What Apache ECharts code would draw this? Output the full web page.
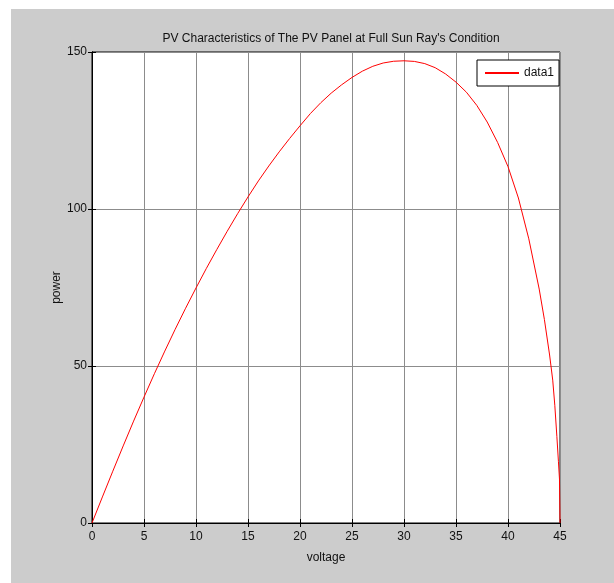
<!DOCTYPE html>
<html style="height: 100%">
<head>
<meta charset="utf-8">
<script type="text/javascript" src="https://cdn.jsdelivr.net/npm/echarts@6/dist/echarts.min.js"></script>
</head>
<body style="height: 100%; margin: 0">
<div id="container" style="width: 614px; height: 583px"></div>
<script type="text/javascript">
// voltage / power
var voltage = [0, 1, 2, 3, 4, 5, 6, 7, 8, 9, 10, 11, 12, 13, 14, 15, 16, 17, 18, 19, 20,
    21, 22, 23, 24, 25, 26, 27, 28, 29, 30, 31, 32, 33, 34, 35, 36, 37, 38, 39, 40,
    41, 42, 43, 43.5, 44, 44.3, 44.5, 44.7, 44.85, 44.95, 45];
var power = [0, 8.3, 16.5, 24.55, 32.45, 40.1, 47.55, 54.75, 61.7, 68.4, 74.85, 81.1, 87.1, 92.9,
    98.5, 103.85, 108.95, 113.7, 118.2, 122.45, 126.5, 130.4, 133.85, 136.9, 139.55, 141.9,
    143.9, 145.45, 146.5, 147.05, 147.2, 147.0, 146.3, 145.0, 143.0, 140.4, 137.2, 133.0, 127.7,
    121.2, 113.5, 103.5, 90.5, 74.5, 64.8, 53.5, 45.5, 37.5, 27.5, 19.5, 14, 0];
var xTicks = [0, 45, 5];
var yTicks = [0, 150, 50];

var dom = document.getElementById("container");
var myChart = echarts.init(dom);
var font = 'Liberation Sans';

var pts = [];
for (var i = 0; i < voltage.length; i++) {
    pts.push([voltage[i], power[i]]);
}

var axisCommon = {
    axisLine: { show: true, lineStyle: { color: '#000', width: 1 } },
    axisTick: { show: true, inside: true, length: 4, lineStyle: { color: '#000' } },
    splitLine: { show: true, lineStyle: { color: '#8c8c8c', width: 1 } }
};

var option = {
    backgroundColor: '#fff',
    animation: false,
    graphic: [{
        type: 'rect', z: -100,
        shape: { x: 11, y: 9, width: 603, height: 574 },
        style: { fill: '#cccccc' }
    }],
    title: {
        text: "PV Characteristics of The PV Panel at Full Sun Ray's Condition",
        left: 326, top: 28, textAlign: 'center',
        textStyle: { fontFamily: font, fontSize: 12, fontWeight: 'normal', color: '#111' }
    },
    legend: {
        left: 477, top: 60,
        data: ['data1'],
        icon: 'rect',
        itemWidth: 34, itemHeight: 2,
        itemGap: 4,
        backgroundColor: '#fff',
        borderColor: '#000', borderWidth: 1,
        padding: [7, 5, 7, 8],
        textStyle: { fontFamily: font, fontSize: 12, color: '#111' }
    },
    grid: {
        left: 92, right: 54, top: 52, bottom: 60,
        show: true, backgroundColor: '#fff', borderColor: '#000', borderWidth: 1
    },
    xAxis: [Object.assign({}, axisCommon, {
        type: 'value', min: xTicks[0], max: xTicks[1], interval: xTicks[2],
        name: 'voltage', nameLocation: 'middle', nameGap: 29,
        nameTextStyle: { fontFamily: font, fontSize: 12, color: '#111' },
        axisLabel: { color: '#111', fontFamily: font, fontSize: 12, margin: 8 }
    }), {
        type: 'value', position: 'top', min: xTicks[0], max: xTicks[1], interval: xTicks[2],
        axisLine: { show: true, lineStyle: { color: '#000' } },
        axisTick: { show: true, inside: true, length: 4, lineStyle: { color: '#000' } },
        axisLabel: { show: false }, splitLine: { show: false }
    }],
    yAxis: [Object.assign({}, axisCommon, {
        type: 'value', min: yTicks[0], max: yTicks[1], interval: yTicks[2],
        name: 'power', nameLocation: 'middle', nameGap: 29, nameMoveOverlap: false,
        nameTextStyle: { fontFamily: font, fontSize: 12, color: '#111' },
        axisLabel: { color: '#111', fontFamily: font, fontSize: 12, margin: 5 }
    }), {
        type: 'value', position: 'right', min: yTicks[0], max: yTicks[1], interval: yTicks[2],
        axisLine: { show: true, lineStyle: { color: '#000' } },
        axisTick: { show: true, inside: true, length: 4, lineStyle: { color: '#000' } },
        axisLabel: { show: false }, splitLine: { show: false }
    }],
    series: [{
        name: 'data1',
        type: 'line',
        data: pts,
        showSymbol: false,
        symbol: 'none',
        smooth: false,
        lineStyle: { color: '#ff0000', width: 1 },
        itemStyle: { color: '#ff0000' }
    }]
};
myChart.setOption(option, true);
</script>
</body>
</html>
